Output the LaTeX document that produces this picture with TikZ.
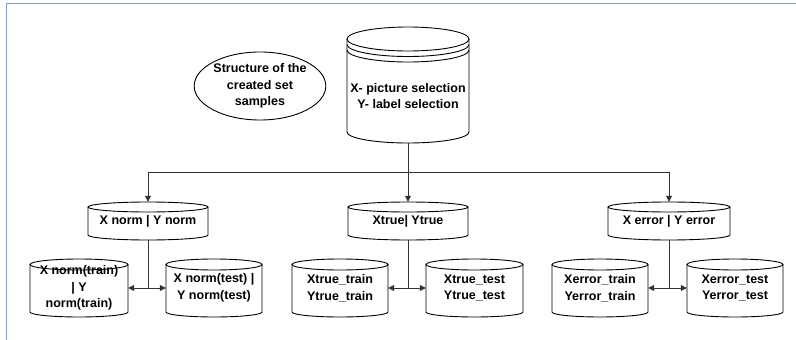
\documentclass[tikz,border=0pt]{standalone}
\usepackage{fontspec}
\setmainfont{Liberation Sans}
\usetikzlibrary{shapes.geometric,arrows.meta}
\definecolor{frameblue}{RGB}{125,158,205}
\tikzset{
  cylline/.style={draw=black, line width=0.9pt},
  conn/.style={draw=black!80, line width=0.8pt},
  arr/.style={conn, -{Triangle[length=6pt,width=6pt]}},
  txt/.style={font=\bfseries\fontsize{12.5}{16.5}\selectfont, align=center, inner sep=0pt},
}
% name, cx, top, bottom, half width, top ry, bottom ry, text
\newcommand\mycyl[8]{%
  \draw[cylline] (#2,{-(#3+#6)}) ellipse [x radius=#5pt, y radius=#6pt];
  \draw[cylline] ({#2-#5},{-(#3+#6)}) -- ({#2-#5},{-(#4-#7)})
     arc[start angle=180,end angle=360,x radius=#5pt,y radius=#7pt]
     -- ({#2+#5},{-(#3+#6)});
  \node[txt, minimum width={2*#5*1pt}, minimum height={(#4-#3)*1pt}] (#1) at (#2,{-(#3+#4)/2}) {#8};
}
\begin{document}
\begin{tikzpicture}[x=1pt,y=1pt]
\useasboundingbox (0,0) rectangle (796,-340);
% frame lines
\draw[frameblue, line width=1pt] (6,-340) -- (6,-3) -- (796,-3);
% legend ellipse
\node[draw, ellipse, line width=0.9pt, minimum width=119pt, minimum height=68pt, txt] (legend) at (260,-86)
  {Structure of the\\created set\\samples};
% top cylinder
\mycyl{top}{408}{27}{143}{61}{12}{11}{}
\draw[cylline] (347,-44.5) arc[start angle=180,end angle=360,x radius=61pt,y radius=12pt];
\draw[cylline] (347,-50) arc[start angle=180,end angle=360,x radius=61pt,y radius=12pt];
\node[txt] (toptext) at (408,-96) {X- picture selection\\Y- label selection};
% middle cylinders
\mycyl{xnorm}{148}{202}{240}{60}{5}{5}{X norm | Y norm}
\mycyl{xtrue}{408}{202}{240}{60}{5}{5}{Xtrue| Ytrue}
\mycyl{xerr}{669}{202}{240}{61}{5}{5}{X error | Y error}
% bottom cylinders
\mycyl{ntrain}{79}{259}{317}{49}{5.5}{5}{X norm(train)\\| Y\\norm(train)}
\mycyl{ntest}{214}{259}{317}{48}{5.5}{5}{X norm(test) |\\Y norm(test)}
\mycyl{ttrain}{340}{259}{317}{48}{5.5}{5}{Xtrue\_train\\Ytrue\_train}
\mycyl{ttest}{474.5}{259}{317}{48.5}{5.5}{5}{Xtrue\_test\\Ytrue\_test}
\mycyl{etrain}{600}{259}{317}{48}{5.5}{5}{Xerror\_train\\Yerror\_train}
\mycyl{etest}{735}{259}{317}{48}{5.5}{5}{Xerror\_test\\Yerror\_test}
% connectors
\coordinate (bus) at (408,-172);
\draw[conn] (top.south) -- (bus);
\draw[arr] (bus) -| (xnorm.north);
\draw[arr] (bus) -- (xtrue.north);
\draw[arr] (bus) -| (xerr.north);
\coordinate (j1) at (xnorm.south |- ntrain.east);
\coordinate (j2) at (xtrue.south |- ttrain.east);
\coordinate (j3) at (xerr.south |- etrain.east);
\draw[conn] (xnorm.south) -- (j1);
\draw[conn] (xtrue.south) -- (j2);
\draw[conn] (xerr.south) -- (j3);
\draw[arr] (j1) -- (ntrain.east);
\draw[arr] (j1) -- (ntest.west);
\draw[arr] (j2) -- (ttrain.east);
\draw[arr] (j2) -- (ttest.west);
\draw[arr] (j3) -- (etrain.east);
\draw[arr] (j3) -- (etest.west);
\end{tikzpicture}
\end{document}
